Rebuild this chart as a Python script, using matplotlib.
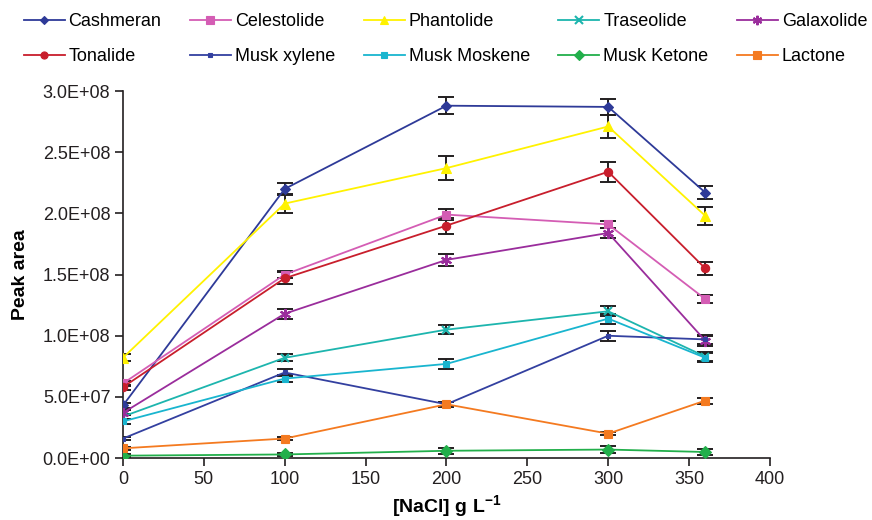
import matplotlib
matplotlib.use("Agg")
import matplotlib.pyplot as plt
import numpy as np

plt.rcParams['font.family'] = ['Liberation Sans', 'DejaVu Sans']
plt.rcParams['mathtext.fontset'] = 'custom'
plt.rcParams['mathtext.rm'] = 'Liberation Sans'
plt.rcParams['mathtext.bf'] = 'Liberation Sans:bold'

nacl = [0, 100, 200, 300, 360]

series_names = ["Cashmeran", "Celestolide", "Phantolide", "Traseolide", "Galaxolide",
                "Tonalide", "Musk xylene", "Musk Moskene", "Musk Ketone", "Lactone"]

cashmeran   = [0.43e8, 2.20e8, 2.88e8, 2.87e8, 2.17e8]
celestolide = [0.61e8, 1.50e8, 1.99e8, 1.91e8, 1.30e8]
phantolide  = [0.82e8, 2.08e8, 2.37e8, 2.71e8, 1.98e8]
traseolide  = [0.34e8, 0.82e8, 1.05e8, 1.20e8, 0.83e8]
galaxolide  = [0.37e8, 1.18e8, 1.62e8, 1.84e8, 0.96e8]
tonalide    = [0.58e8, 1.47e8, 1.90e8, 2.34e8, 1.55e8]
musk_xylene = [0.16e8, 0.70e8, 0.44e8, 1.00e8, 0.97e8]
musk_moskene= [0.30e8, 0.65e8, 0.77e8, 1.14e8, 0.82e8]
musk_ketone = [0.02e8, 0.03e8, 0.06e8, 0.07e8, 0.05e8]
lactone     = [0.08e8, 0.16e8, 0.44e8, 0.20e8, 0.47e8]

err_cashmeran   = [0.02e8, 0.05e8, 0.07e8, 0.065e8, 0.055e8]
err_celestolide = [0.02e8, 0.03e8, 0.045e8, 0.03e8, 0.035e8]
err_phantolide  = [0.03e8, 0.08e8, 0.095e8, 0.09e8, 0.075e8]
err_traseolide  = [0.02e8, 0.03e8, 0.035e8, 0.04e8, 0.035e8]
err_galaxolide  = [0.02e8, 0.04e8, 0.05e8, 0.04e8, 0.04e8]
err_tonalide    = [0.02e8, 0.05e8, 0.065e8, 0.08e8, 0.05e8]
err_musk_xylene = [0.01e8, 0.03e8, 0.02e8, 0.04e8, 0.04e8]
err_musk_moskene= [0.02e8, 0.03e8, 0.04e8, 0.04e8, 0.035e8]
err_musk_ketone = [0.01e8, 0.01e8, 0.025e8, 0.025e8, 0.025e8]
err_lactone     = [0.01e8, 0.01e8, 0.015e8, 0.01e8, 0.025e8]

values = [cashmeran, celestolide, phantolide, traseolide, galaxolide,
          tonalide, musk_xylene, musk_moskene, musk_ketone, lactone]
errors = [err_cashmeran, err_celestolide, err_phantolide, err_traseolide, err_galaxolide,
          err_tonalide, err_musk_xylene, err_musk_moskene, err_musk_ketone, err_lactone]

colors = ["#2E3A98", "#D45DB4", "#FFF200", "#1DB5AE", "#9A2D9C",
          "#C81E2C", "#3340A0", "#19B5CF", "#22AF4B", "#F47A20"]
markers = ["D", "s", "^", "x", (6, 2, 0), "o", "s", "s", "D", "s"]
msizes = [5, 6, 7, 6, 8, 6, 3, 5, 6, 6]

x_ticks = [0, 50, 100, 150, 200, 250, 300, 350, 400]
y_ticks = [0, 0.5e8, 1.0e8, 1.5e8, 2.0e8, 2.5e8, 3.0e8]
y_ticklabels = ["0.0E+00", "5.0E+07", "1.0E+08", "1.5E+08", "2.0E+08", "2.5E+08", "3.0E+08"]

fig = plt.figure(figsize=(8.72, 5.2), dpi=100)
ax = fig.add_axes([0.141, 0.119, 0.742, 0.706])

handles = []
for name, v, e, c, m, ms in zip(series_names, values, errors, colors, markers, msizes):
    ax.errorbar(nacl, v, yerr=e, fmt='none', ecolor='#231F20', elinewidth=1.4,
                capsize=5.5, capthick=1.4, zorder=2)
    h, = ax.plot(nacl, v, color=c, marker=m, markersize=ms, linewidth=1.3,
                 markeredgewidth=1.5 if m in ("x", (6, 2, 0)) else 0.8,
                 markeredgecolor=c, markerfacecolor=c, label=name, zorder=3)
    handles.append(h)

ax.set_xlim(0, 400)
ax.set_ylim(0, 3.0e8)
ax.set_xticks(x_ticks)
ax.set_yticks(y_ticks)
ax.set_yticklabels(y_ticklabels)
ax.tick_params(axis='both', direction='out', length=6, width=1.2, labelsize=13,
               colors='#231F20', pad=3)
for s in ['top', 'right']:
    ax.spines[s].set_visible(False)
for s in ['left', 'bottom']:
    ax.spines[s].set_linewidth(1.2)
    ax.spines[s].set_color('#231F20')

ax.set_ylabel("Peak area", fontsize=14, fontweight='bold', labelpad=10)
ax.set_xlabel("[NaCl] g L$^{\\mathbf{-1}}$", fontsize=14, fontweight='bold', labelpad=4)

# legend filled row by row (2 rows x 5 columns)
order = [0, 5, 1, 6, 2, 7, 3, 8, 4, 9]
fig.legend([handles[i] for i in order], [series_names[i] for i in order],
           loc='upper left', bbox_to_anchor=(0.027, 0.975), ncol=5, frameon=False,
           fontsize=13, handlelength=2.27, handletextpad=0.22, columnspacing=1.58,
           labelspacing=1.02, borderaxespad=0, borderpad=0, markerscale=0.85)

fig.savefig("out.png", dpi=100)
